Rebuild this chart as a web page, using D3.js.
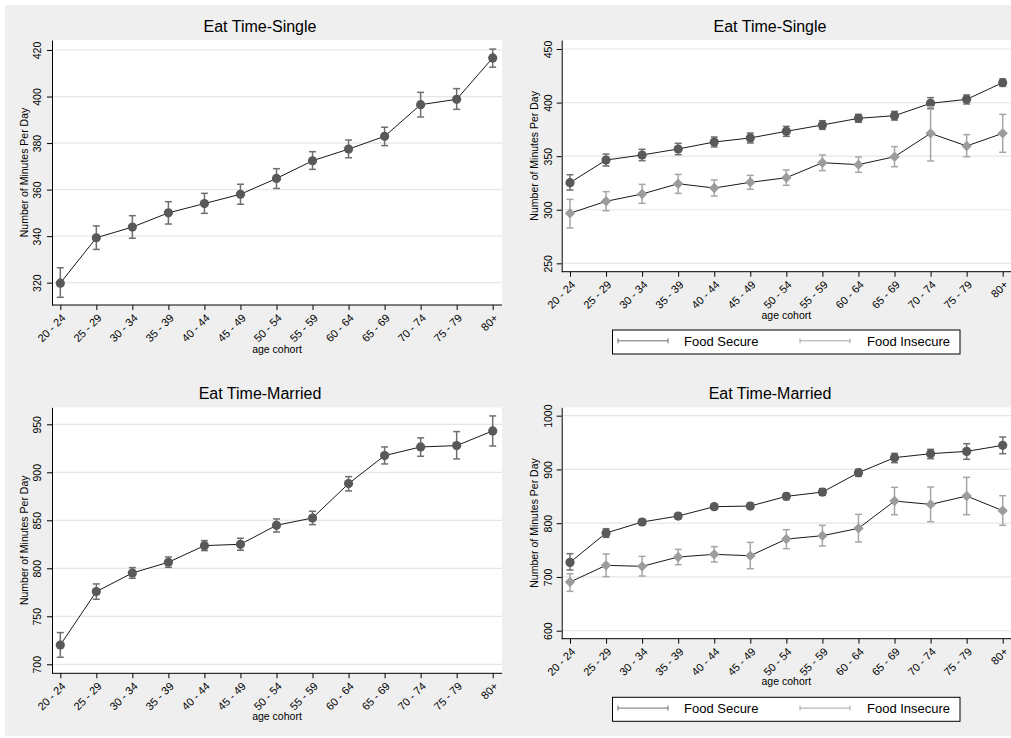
<!DOCTYPE html>
<html>
<head>
<meta charset="utf-8">
<script src="https://cdn.jsdelivr.net/npm/d3@7/dist/d3.min.js"></script>
<style>
  html, body { margin: 0; padding: 0; background: #ffffff; }
  svg { display: block; }
  text { font-family: "Liberation Sans", Arial, sans-serif; fill: #000; }
</style>
</head>
<body>
<svg id="chart" width="1011" height="738"></svg>
<script>
// Age cohorts on the x axis
const ageCohorts = ["20 - 24", "25 - 29", "30 - 34", "35 - 39", "40 - 44", "45 - 49",
  "50 - 54", "55 - 59", "60 - 64", "65 - 69", "70 - 74", "75 - 79", "80+"];

// Single, all respondents: mean minutes per day with 95% CI bounds
const singleMean = [319.8, 339.3, 343.9, 350.0, 354.0, 358.0, 364.8, 372.4, 377.4, 382.9, 396.5, 398.8, 416.6];
const singleLo   = [313.7, 334.3, 339.1, 345.2, 349.8, 353.7, 360.5, 368.7, 373.7, 378.9, 391.2, 394.5, 412.6];
const singleHi   = [326.4, 344.4, 348.8, 354.8, 358.4, 362.3, 369.0, 376.3, 381.3, 386.8, 401.8, 403.4, 420.4];

// Single, by food security status
const singleSecureMean   = [325.3, 346.4, 351.1, 356.7, 363.2, 367.0, 373.2, 379.1, 385.3, 387.8, 399.3, 403.0, 418.6];
const singleSecureLo     = [318.4, 340.8, 345.8, 351.4, 358.6, 362.3, 368.5, 375.0, 381.6, 383.7, 394.3, 398.7, 415.2];
const singleSecureHi     = [332.7, 352.0, 356.4, 362.0, 367.9, 371.6, 377.8, 383.1, 389.0, 391.8, 404.6, 407.1, 422.0];
const singleInsecureMean = [296.7, 307.9, 314.7, 324.3, 320.3, 325.6, 329.9, 343.9, 342.1, 349.5, 371.3, 359.5, 371.3];
const singleInsecureLo   = [283.0, 299.1, 306.0, 315.3, 312.8, 319.1, 322.8, 336.5, 334.9, 340.2, 345.5, 349.5, 353.6];
const singleInsecureHi   = [309.7, 316.9, 323.7, 333.0, 327.8, 332.1, 337.1, 351.1, 349.2, 358.9, 396.2, 370.1, 389.0];

// Married, all respondents
const marriedMean = [720.1, 775.7, 795.1, 806.3, 823.6, 825.0, 844.8, 852.4, 888.2, 917.4, 926.4, 927.8, 943.1];
const marriedLo   = [707.3, 767.7, 789.6, 801.0, 818.4, 818.8, 837.8, 845.5, 880.6, 908.7, 916.7, 913.9, 927.4];
const marriedHi   = [733.0, 783.7, 800.7, 811.8, 828.8, 831.3, 851.4, 859.4, 895.5, 926.4, 935.8, 942.4, 958.7];

// Married, by food security status
const marriedSecureMean   = [727.1, 781.7, 802.2, 813.3, 830.7, 831.9, 849.9, 857.9, 894.0, 921.9, 929.3, 933.6, 944.8];
const marriedSecureLo     = [712.9, 773.6, 797.2, 808.4, 825.7, 827.0, 843.7, 851.8, 887.1, 912.6, 920.0, 918.8, 929.3];
const marriedSecureHi     = [743.3, 789.8, 807.1, 818.3, 835.7, 836.9, 855.5, 864.2, 900.2, 929.9, 937.4, 947.9, 960.3];
const marriedInsecureMean = [690.5, 721.6, 719.7, 737.1, 742.0, 739.5, 770.5, 776.7, 790.4, 841.2, 835.0, 850.5, 823.3];
const marriedInsecureLo   = [673.2, 700.5, 701.7, 722.8, 727.8, 715.3, 752.6, 757.5, 764.9, 815.8, 802.8, 815.8, 796.0];
const marriedInsecureHi   = [706.0, 742.6, 738.3, 751.3, 756.3, 764.3, 787.9, 796.0, 816.4, 866.7, 867.3, 885.3, 851.2];

// Y tick values per panel
const singleTicks = [320, 340, 360, 380, 400, 420];
const singleSecurityTicks = [250, 300, 350, 400, 450];
const marriedTicks = [700, 750, 800, 850, 900, 950];
const marriedSecurityTicks = [600, 700, 800, 900, 1000];

// Legend labels
const legendLabels = ["Food Secure", "Food Insecure"];

const svg = d3.select("#chart");
const BG = "#efefef";
const DARK_MARK = "#595959", DARK_BAR = "#6f6f6f";
const LIGHT_MARK = "#9c9c9c", LIGHT_BAR = "#a6a6a6";

svg.append("rect").attr("x", 5).attr("y", 5).attr("width", 1006).attr("height", 731).attr("fill", BG);

function series(mean, lo, hi) {
  return mean.map((m, i) => ({ cat: ageCohorts[i], mean: m, lo: lo[i], hi: hi[i] }));
}

function drawPanel(cfg) {
  const g = svg.append("g");
  const { left, right, top, bottom } = cfg.box;

  // white plot region
  g.append("rect").attr("x", left).attr("y", top)
    .attr("width", right - left).attr("height", bottom - top).attr("fill", "#fff");

  const x = d3.scalePoint().domain(ageCohorts).range(cfg.xRange);
  const y = d3.scaleLinear().domain(cfg.yDomain).range([bottom, top]);

  // gridlines
  g.append("g").selectAll("line").data(cfg.ticks).join("line")
    .attr("x1", left).attr("x2", right)
    .attr("y1", d => y(d)).attr("y2", d => y(d))
    .attr("stroke", "#e6e6e6").attr("stroke-width", 1.2);

  // y axis
  const ya = g.append("g").attr("transform", `translate(${left},0)`)
    .call(d3.axisLeft(y).tickValues(cfg.ticks).tickSize(5).tickSizeOuter(0).tickFormat(d3.format("d")));
  ya.select(".domain").attr("stroke", "#000");
  ya.selectAll(".tick line").attr("stroke", "#000");
  ya.selectAll(".tick text")
    .attr("transform", "rotate(-90)")
    .attr("x", 0).attr("y", -cfg.yLabelGap).attr("dy", 0)
    .attr("text-anchor", "middle")
    .style("font-size", "10.5px").style("font-family", "Liberation Sans, Arial, sans-serif");

  // x axis
  const xa = g.append("g").attr("transform", `translate(0,${bottom})`)
    .call(d3.axisBottom(x).tickSize(5).tickSizeOuter(0));
  xa.select(".domain").remove();
  xa.append("line").attr("x1", left).attr("x2", right).attr("y1", 0).attr("y2", 0).attr("stroke", "#000");
  xa.selectAll(".tick line").attr("stroke", "#000");
  xa.selectAll(".tick text")
    .attr("transform", "translate(0,8) rotate(-45)")
    .attr("x", 0).attr("y", 0).attr("dy", "0.72em")
    .attr("text-anchor", "end")
    .style("font-size", "11px").style("font-family", "Liberation Sans, Arial, sans-serif");

  // titles
  g.append("text").attr("x", cfg.titleX).attr("y", cfg.titleY)
    .attr("text-anchor", "middle").style("font-size", "16px").text(cfg.title);
  g.append("text").attr("x", (left + right) / 2).attr("y", cfg.xTitleY)
    .attr("text-anchor", "middle").style("font-size", "10.5px").text("age cohort");
  g.append("text").attr("transform", `translate(${cfg.yTitleX},${(top + bottom) / 2}) rotate(-90)`)
    .attr("text-anchor", "middle").style("font-size", "10.5px").text("Number of Minutes Per Day");

  // data series
  cfg.series.forEach(s => {
    const data = s.data;
    const cap = 3.5;
    const bars = g.append("g").attr("stroke", s.barColor).attr("stroke-width", 1.5).attr("fill", "none");
    bars.selectAll("line.v").data(data).join("line").attr("class", "v")
      .attr("x1", d => x(d.cat)).attr("x2", d => x(d.cat))
      .attr("y1", d => y(d.lo)).attr("y2", d => y(d.hi));
    bars.selectAll("line.lo").data(data).join("line").attr("class", "lo")
      .attr("x1", d => x(d.cat) - cap).attr("x2", d => x(d.cat) + cap)
      .attr("y1", d => y(d.lo)).attr("y2", d => y(d.lo));
    bars.selectAll("line.hi").data(data).join("line").attr("class", "hi")
      .attr("x1", d => x(d.cat) - cap).attr("x2", d => x(d.cat) + cap)
      .attr("y1", d => y(d.hi)).attr("y2", d => y(d.hi));

    g.append("path").datum(data)
      .attr("fill", "none").attr("stroke", "#1a1a1a").attr("stroke-width", 1)
      .attr("d", d3.line().x(d => x(d.cat)).y(d => y(d.mean)));

    if (s.shape === "diamond") {
      const r = 5.2;
      g.append("g").selectAll("path").data(data).join("path")
        .attr("transform", d => `translate(${x(d.cat)},${y(d.mean)})`)
        .attr("d", `M0,${-r}L${r},0L0,${r}L${-r},0Z`)
        .attr("fill", s.markColor);
    } else {
      g.append("g").selectAll("circle").data(data).join("circle")
        .attr("cx", d => x(d.cat)).attr("cy", d => y(d.mean)).attr("r", 4.6)
        .attr("fill", s.markColor);
    }
  });

  // legend
  if (cfg.legendY !== undefined) {
    const ly = cfg.legendY;
    const lg = g.append("g");
    lg.append("rect").attr("x", 612.5).attr("y", ly).attr("width", 347.5).attr("height", 24)
      .attr("fill", "#fff").attr("stroke", "#000").attr("stroke-width", 1);
    const keys = [
      { label: legendLabels[0], color: DARK_BAR, x0: 618, tx: 684 },
      { label: legendLabels[1], color: LIGHT_BAR, x0: 800, tx: 867 }
    ];
    keys.forEach(k => {
      const cy = ly + 10.8;
      lg.append("line").attr("x1", k.x0).attr("x2", k.x0 + 50).attr("y1", cy).attr("y2", cy)
        .attr("stroke", k.color).attr("stroke-width", 1);
      [k.x0, k.x0 + 50].forEach(xx => lg.append("line")
        .attr("x1", xx).attr("x2", xx).attr("y1", cy - 2.5).attr("y2", cy + 2.5)
        .attr("stroke", k.color).attr("stroke-width", 1));
      lg.append("text").attr("x", k.tx).attr("y", ly + 15.5).style("font-size", "13px").text(k.label);
    });
  }
}

drawPanel({
  title: "Eat Time-Single", titleX: 260, titleY: 32,
  box: { left: 52, right: 502, top: 40, bottom: 305 },
  xRange: [60.3, 492.7], yDomain: [310.4, 424.3], ticks: singleTicks,
  yLabelGap: 11.5, yTitleX: 27.5, xTitleY: 353,
  series: [{ data: series(singleMean, singleLo, singleHi), markColor: DARK_MARK, barColor: DARK_BAR, shape: "circle" }]
});

drawPanel({
  title: "Eat Time-Single", titleX: 770, titleY: 32,
  box: { left: 561.7, right: 1011, top: 40, bottom: 271.7 },
  xRange: [570, 1002.7], yDomain: [242.2, 458.4], ticks: singleSecurityTicks,
  yLabelGap: 10, yTitleX: 538, xTitleY: 319, legendY: 330,
  series: [
    { data: series(singleSecureMean, singleSecureLo, singleSecureHi), markColor: DARK_MARK, barColor: DARK_BAR, shape: "circle" },
    { data: series(singleInsecureMean, singleInsecureLo, singleInsecureHi), markColor: LIGHT_MARK, barColor: LIGHT_BAR, shape: "diamond" }
  ]
});

drawPanel({
  title: "Eat Time-Married", titleX: 260, titleY: 399.3,
  box: { left: 52, right: 502, top: 407.3, bottom: 673.3 },
  xRange: [60.3, 492.7], yDomain: [690.6, 967.7], ticks: marriedTicks,
  yLabelGap: 11.5, yTitleX: 27.5, xTitleY: 720,
  series: [{ data: series(marriedMean, marriedLo, marriedHi), markColor: DARK_MARK, barColor: DARK_BAR, shape: "circle" }]
});

drawPanel({
  title: "Eat Time-Married", titleX: 770, titleY: 399.3,
  box: { left: 561.7, right: 1011, top: 407.3, bottom: 638.7 },
  xRange: [570, 1002.7], yDomain: [585.1, 1015.6], ticks: marriedSecurityTicks,
  yLabelGap: 10, yTitleX: 538, xTitleY: 685.3, legendY: 697.3,
  series: [
    { data: series(marriedSecureMean, marriedSecureLo, marriedSecureHi), markColor: DARK_MARK, barColor: DARK_BAR, shape: "circle" },
    { data: series(marriedInsecureMean, marriedInsecureLo, marriedInsecureHi), markColor: LIGHT_MARK, barColor: LIGHT_BAR, shape: "diamond" }
  ]
});
</script>
</body>
</html>
